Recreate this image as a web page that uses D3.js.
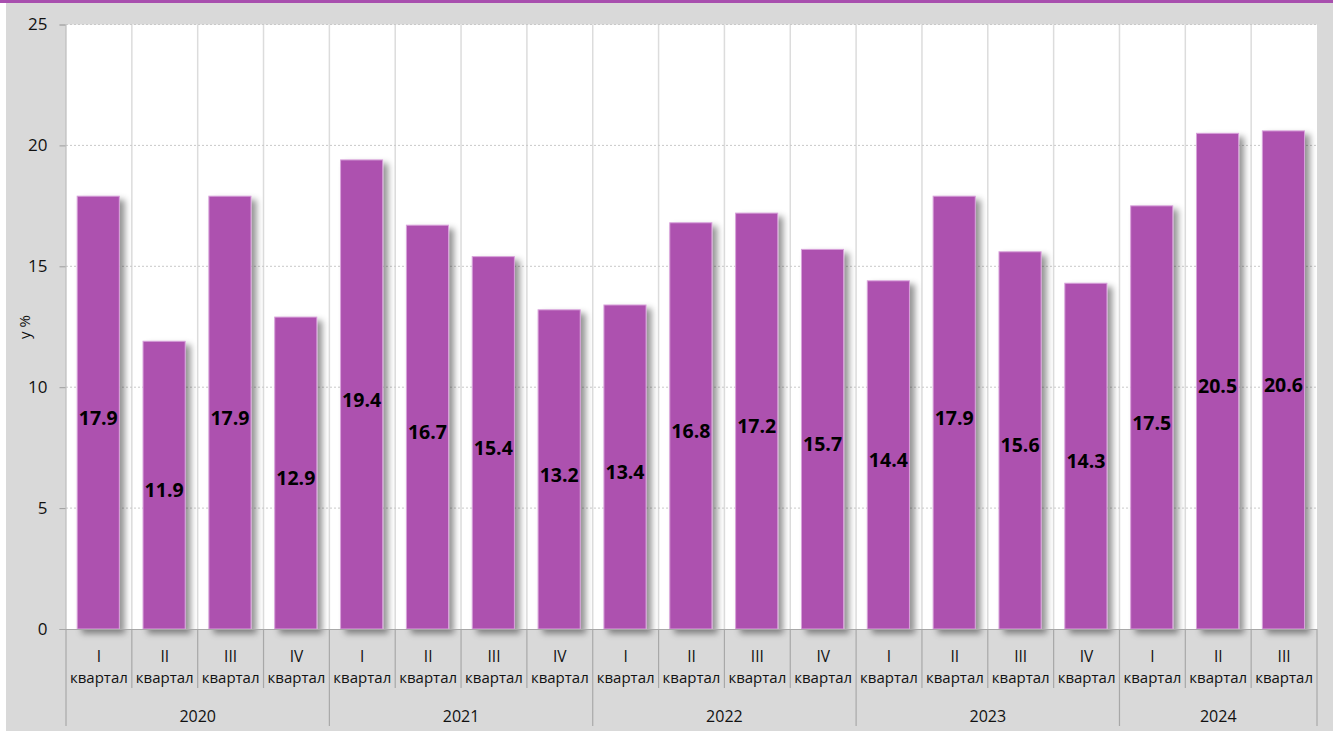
<!DOCTYPE html>
<html>
<head>
<meta charset="utf-8">
<script src="https://cdn.jsdelivr.net/npm/d3@7"></script>
<style>
  html, body { margin: 0; padding: 0; background: #fff; }
  svg { display: block; }
  text { font-family: "Open Sans", "Noto Sans", sans-serif; fill: #111; }
</style>
</head>
<body>
<svg id="chart" width="1333" height="732"></svg>
<script>
// Quarterly values, %
const quarters = ["I", "II", "III", "IV", "I", "II", "III", "IV", "I", "II", "III", "IV",
                  "I", "II", "III", "IV", "I", "II", "III"];
const quarterWord = "квартал";
const years = ["2020", "2021", "2022", "2023", "2024"];
const quartersPerYear = [4, 4, 4, 4, 3];
const values = [17.9, 11.9, 17.9, 12.9, 19.4, 16.7, 15.4, 13.2, 13.4, 16.8, 17.2, 15.7,
                14.4, 17.9, 15.6, 14.3, 17.5, 20.5, 20.6];
const yTicks = [0, 5, 10, 15, 20, 25];
const yTitle = "у %";

const svg = d3.select("#chart");
const W = 1333, H = 732;

// Frame: grey panel with purple top rule
svg.append("rect").attr("x", 6).attr("y", 0).attr("width", W - 6).attr("height", H - 1).attr("fill", "#d9d9d9");
svg.append("rect").attr("x", 0).attr("y", 0).attr("width", W).attr("height", 3).attr("fill", "#a84fae");

const plot = { left: 66, right: 1317, top: 24.5, bottom: 629 };

const x = d3.scaleBand().domain(d3.range(values.length)).range([plot.left, plot.right]).padding(0);
const y = d3.scaleLinear().domain([0, 25]).range([plot.bottom, plot.top]);
const step = x.step();

// Plot background
svg.append("rect")
  .attr("x", plot.left).attr("y", plot.top)
  .attr("width", plot.right - plot.left).attr("height", plot.bottom - plot.top)
  .attr("fill", "#fff");

// Vertical grid between categories
svg.append("g").selectAll("line")
  .data(d3.range(1, values.length))
  .join("line")
  .attr("x1", i => x(i)).attr("x2", i => x(i))
  .attr("y1", plot.top).attr("y2", plot.bottom)
  .attr("stroke", "#dcdcdc").attr("stroke-width", 1.5);

// Horizontal dotted grid
svg.append("g").selectAll("line")
  .data(yTicks.filter(d => d > 0))
  .join("line")
  .attr("x1", plot.left).attr("x2", plot.right)
  .attr("y1", d => y(d)).attr("y2", d => y(d))
  .attr("stroke", "#c9c9c9").attr("stroke-dasharray", "2,2");

// Drop shadow for bars
const defs = svg.append("defs");
const f = defs.append("filter").attr("id", "shadow")
  .attr("x", "-20%").attr("y", "-10%").attr("width", "160%").attr("height", "130%");
f.append("feDropShadow")
  .attr("dx", 5).attr("dy", 4).attr("stdDeviation", 3)
  .attr("flood-color", "#000").attr("flood-opacity", 0.42);

// Bars
const barOff = step * 0.17, barW = step * 0.64;
svg.append("g").selectAll("rect")
  .data(values)
  .join("rect")
  .attr("x", (d, i) => x(i) + barOff)
  .attr("y", d => y(d))
  .attr("width", barW)
  .attr("height", d => y(0) - y(d))
  .attr("fill", "#ad51af")
  .attr("stroke", "#d8a2da")
  .attr("stroke-width", 1)
  .attr("filter", "url(#shadow)");

// Value labels in the middle of each bar
svg.append("g").selectAll("text")
  .data(values)
  .join("text")
  .attr("x", (d, i) => x(i) + barOff + barW / 2)
  .attr("y", d => y(d / 2))
  .attr("dy", "0.62em")
  .attr("text-anchor", "middle")
  .attr("font-size", 19.5)
  .attr("font-weight", "bold")
  .style("fill", "#000")
  .text(d => d.toFixed(1));

// Y axis
const yAxis = svg.append("g").attr("transform", `translate(${plot.left - 0.5},0)`)
  .call(d3.axisLeft(y).tickValues(yTicks).tickSize(6).tickPadding(12).tickFormat(d3.format("d")));
yAxis.select(".domain").attr("stroke", "#bdbdbd").attr("stroke-width", 1.2);
yAxis.selectAll(".tick line").attr("stroke", "#9e9e9e");
yAxis.selectAll(".tick text").attr("font-size", 17).style("fill", "#111")
  .attr("font-family", "'Open Sans', sans-serif");

svg.append("text")
  .attr("transform", "translate(25,327) rotate(-90)")
  .attr("text-anchor", "middle")
  .attr("dy", "0.35em")
  .attr("font-size", 15)
  .text(yTitle);

// Category axis: quarter row and year row
const axisG = svg.append("g");
const lineColor = "#a8a8a8";
axisG.append("line")
  .attr("x1", plot.left - 6).attr("x2", plot.right)
  .attr("y1", plot.bottom + 0.5).attr("y2", plot.bottom + 0.5)
  .attr("stroke", lineColor);

// Separators between quarters (short) and years (long)
const yearStarts = [];
let acc = 0;
quartersPerYear.forEach(n => { yearStarts.push(acc); acc += n; });
const boundaries = d3.range(0, values.length + 1);
axisG.selectAll("line.sep")
  .data(boundaries)
  .join("line")
  .attr("class", "sep")
  .attr("x1", i => (i < values.length ? x(i) : plot.right))
  .attr("x2", i => (i < values.length ? x(i) : plot.right))
  .attr("y1", plot.bottom)
  .attr("y2", i => (yearStarts.includes(i) || i === values.length) ? 726 : 688)
  .attr("stroke", lineColor).attr("stroke-width", 1.2);

const qLabels = axisG.selectAll("g.q")
  .data(quarters)
  .join("g")
  .attr("class", "q")
  .attr("transform", (d, i) => `translate(${x(i) + step / 2},0)`);
qLabels.append("text")
  .attr("y", 657).attr("dy", "0.35em")
  .attr("text-anchor", "middle").attr("font-size", 15.5)
  .text(d => d);
qLabels.append("text")
  .attr("y", 678).attr("dy", "0.35em")
  .attr("text-anchor", "middle").attr("font-size", 15)
  .text(quarterWord);

axisG.selectAll("text.year")
  .data(years)
  .join("text")
  .attr("class", "year")
  .attr("x", (d, k) => {
    const s = yearStarts[k], e = s + quartersPerYear[k];
    const x0 = x(s), x1 = e < values.length ? x(e) : plot.right;
    return (x0 + x1) / 2;
  })
  .attr("y", 716).attr("dy", "0.35em")
  .attr("text-anchor", "middle").attr("font-size", 16)
  .text(d => d);
</script>
</body>
</html>
